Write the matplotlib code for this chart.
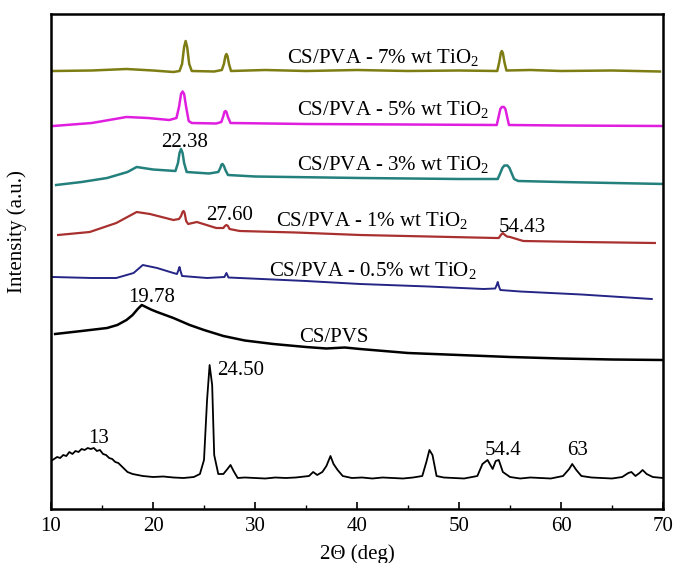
import matplotlib
matplotlib.use("Agg")
import matplotlib.pyplot as plt
from matplotlib.ticker import MultipleLocator

plt.rcParams['font.family'] = ['Liberation Serif', 'DejaVu Serif']
plt.rcParams['mathtext.default'] = 'regular'

# ---- data (2theta in deg, intensity in a.u. incl. stacking offset) ----
x_7 = [10.2, 14, 17.4, 20, 22.0, 22.6, 22.85, 23.05, 23.2, 23.35, 23.55, 23.8,
       26.0, 26.75, 26.95, 27.1, 27.2, 27.3, 27.45, 27.65,
       31, 35, 40, 45, 50, 53.75, 53.95, 54.1, 54.2, 54.3, 54.45, 54.65, 57, 60, 65, 69.7]
y_7 = [438, 438.5, 440, 438.5, 437, 438, 445, 462, 468, 462, 445, 438,
       437.5, 439, 445, 453, 455, 453, 445, 438,
       439, 438, 439, 438, 438.5, 438, 447, 456, 458, 456, 447, 438.5, 439, 438, 438.5, 437.5]

x_5 = [10.2, 14, 17.4, 19.5, 21.6, 22.3, 22.55, 22.75, 22.9, 23.05, 23.25, 23.5, 23.8,
       26.2, 26.7, 26.9, 27.0, 27.1, 27.2, 27.35, 27.6,
       35, 45, 53.7, 53.9, 54.05, 54.2, 54.4, 54.55, 54.7, 54.9, 60, 70]
y_5 = [383, 386, 392, 391, 389, 391, 402, 415, 417.5, 415, 402, 388, 386,
       385.5, 387, 393, 397, 398, 397, 392, 386,
       385, 384.5, 384, 393, 400, 402, 402, 400, 393, 384, 383.5, 383]

x_3 = [10.5, 13, 15.5, 17.5, 18.4, 20, 22.2, 22.45, 22.6, 22.75, 22.9, 23.05, 23.3,
       25.5, 26.4, 26.6, 26.72, 26.82, 26.95, 27.1, 27.35,
       30, 40.3, 50, 53.8, 54.05, 54.25, 54.45, 54.75, 54.95, 55.15, 55.4, 55.8, 60, 70.2]
y_3 = [324, 327, 331, 337, 342, 339.5, 338, 346, 356, 360, 356, 346, 337,
       335.5, 337, 341, 344.5, 345, 343, 339, 334,
       332.5, 331, 330, 330, 336, 341, 343.5, 343.5, 341, 336, 330, 328, 327, 325]

x_1 = [10.7, 13.8, 16.4, 18.4, 19.7, 22.0, 22.55, 22.75, 22.9, 23.0, 23.1, 23.25, 23.45,
       24.3, 26.2, 26.9, 27.05, 27.2, 27.35, 27.5, 28.5,
       34, 40.3, 47, 53.6, 53.9, 54.1, 54.3, 54.5, 54.7, 55.0, 56.3, 62, 69.2]
y_1 = [274, 277, 286, 297, 295, 289, 290, 293, 297, 298, 296, 288, 285,
       287, 281, 281, 283, 284, 283, 280, 278,
       276.5, 274, 272.5, 271, 271, 274, 276, 274, 272.5, 272, 268, 267, 266]

x_05 = [10.2, 14, 16.4, 18.1, 19.0, 20.4, 22.0, 22.35, 22.5, 22.6, 22.7, 22.85,
        25.3, 27.0, 27.2, 27.4, 28.5,
        35, 40.3, 47, 52.4, 53.55, 53.7, 53.8, 53.9, 54.05, 56, 62, 68.9]
y_05 = [232, 231, 231, 236, 244, 241, 236, 235, 239, 242, 238, 233,
        231, 232, 236, 231.5, 231,
        228, 225, 222.5, 220, 220.5, 224, 227, 223, 219, 217.5, 214.5, 210]

x_pvs = [10.4, 13, 15.5, 16.5, 17.4, 18.0, 18.5, 18.9, 19.3, 19.8, 20.4, 21.2, 22, 23.6, 25,
         26.9, 29, 31.8, 35, 37, 38.8, 40.3, 45, 50, 55, 60, 65, 70]
y_pvs = [175, 178, 181, 184, 189, 194, 200, 204, 202, 199.5, 197, 194, 191, 184, 179,
         173, 168.5, 165, 162, 160.5, 161.5, 160, 156, 154, 152, 150.5, 149.5, 149]

x_ti = [10.0, 10.3, 10.6, 10.9, 11.2, 11.5, 11.8, 12.1, 12.4, 12.7, 13.0, 13.3, 13.6, 13.9, 14.2,
        14.5, 14.8, 15.1, 15.4, 15.7, 16.0, 16.3, 16.6, 16.9, 17.2, 17.5, 18, 19, 20, 21, 22, 23,
        24, 24.6, 25.0, 25.3, 25.55, 25.8, 26.0, 26.4, 26.9, 27.3, 27.6, 27.9, 28.3, 29, 30, 31,
        32, 33, 34, 35.3, 35.7, 36.1, 36.6, 37.0, 37.4, 37.7, 38.1, 38.6, 39.5, 40.5, 41.5, 42.5,
        43.5, 44.5, 45.5, 46.4, 46.8, 47.1, 47.4, 47.8, 48.5, 49.5, 50.5, 51.8, 52.3, 52.8, 53.3,
        53.6, 53.9, 54.3, 55, 56, 57, 58, 59, 60.2, 60.8, 61.1, 61.5, 62, 63, 64, 65, 66, 66.6,
        66.9, 67.3, 67.7, 68.0, 68.4, 69, 69.5, 70]
y_ti = [48, 50, 52, 51, 54, 53, 57, 55, 58, 57, 60, 59, 61, 60, 61,
        58, 59, 55, 54, 51, 50, 47, 46, 43, 40, 37, 35, 33, 32, 32.5, 31.5, 31,
        32, 35, 49, 109, 144, 124, 54, 35, 35, 40, 44, 38, 31, 31.5, 31, 30.5,
        31.5, 31, 31.5, 33, 37, 34, 37, 43, 53, 45, 39, 33, 31, 31.5, 30.5, 31.5,
        31, 30.5, 31.5, 33, 47, 59, 54, 33, 31.5, 31, 30.5, 33, 45, 49, 40,
        48, 49, 37, 32, 30.5, 31.5, 31, 30.5, 33, 40, 45, 39, 33, 31.5, 31, 30.5, 32, 36,
        37, 33, 36, 39, 35, 32, 31.5, 31]

series = [
    (x_7, y_7, '#7d7d14', 1.8),
    (x_5, y_5, '#e01ee0', 1.8),
    (x_3, y_3, '#23807c', 1.8),
    (x_1, y_1, '#a8302e', 1.6),
    (x_05, y_05, '#252585', 1.4),
    (x_pvs, y_pvs, '#000000', 1.8),
    (x_ti, y_ti, '#000000', 1.3),
]

fig = plt.figure(figsize=(6.81, 5.63), dpi=100)
ax = fig.add_axes([51 / 681, 1 - 509 / 563, (663 - 51) / 681, (509 - 14) / 563])

for xs, ys, c, lw in series:
    ax.plot(xs, ys, color=c, lw=lw, solid_joinstyle='round')

ax.set_xlim(10, 70)
ax.set_ylim(0, 495)
ax.xaxis.set_major_locator(MultipleLocator(10))
ax.xaxis.set_minor_locator(MultipleLocator(5))
ax.tick_params(axis='x', which='major', direction='in', length=5, width=1.2, labelsize=15, pad=6)
ax.tick_params(axis='x', which='minor', direction='in', length=3, width=1.0)
ax.set_yticks([])
for s in ax.spines.values():
    s.set_linewidth(1.8)

ax.set_xlabel('2Θ (deg)', fontsize=15, labelpad=6)
ax.set_ylabel('Intensity (a.u.)', fontsize=15)
ax.yaxis.set_label_coords(-0.04, 0.56)

fs = 15
labels = [
    (33.1, 446, 'CS/PVA - 7% wt TiO$_2$'),
    (34.1, 394, 'CS/PVA - 5% wt TiO$_2$'),
    (34.1, 339, 'CS/PVA - 3% wt TiO$_2$'),
    (32.1, 283, 'CS/PVA - 1% wt TiO$_2$'),
    (31.4, 233, 'CS/PVA - 0.5% wt TiO$_2$'),
    (34.3, 167, 'CS/PVS'),
    (20.75, 362, '22.38'),
    (25.2, 289, '27.60'),
    (53.9, 277, '54.43'),
    (17.55, 207, '19.78'),
    (26.25, 134, '24.50'),
    (13.6, 66, '13'),
    (52.55, 54, '54.4'),
    (60.6, 54, '63'),
]
for x, y, t in labels:
    ax.text(x, y, t, fontsize=fs, ha='left', va='baseline')

fig.savefig('out.png', dpi=100)
